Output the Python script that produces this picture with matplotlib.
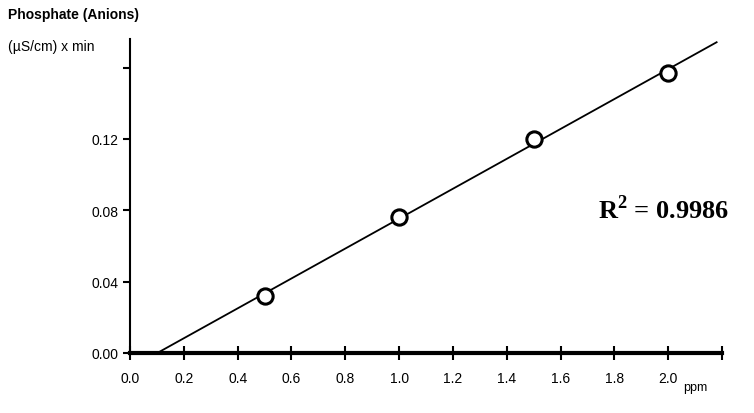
import matplotlib
matplotlib.use("Agg")
import matplotlib.pyplot as plt
import numpy as np

conc = [0.5, 1.0, 1.5, 2.0]
area = [0.032, 0.076, 0.120, 0.157]
xticks = [0.0, 0.2, 0.4, 0.6, 0.8, 1.0, 1.2, 1.4, 1.6, 1.8, 2.0, 2.2]
xlabels = ["0.0", "0.2", "0.4", "0.6", "0.8", "1.0", "1.2", "1.4", "1.6", "1.8", "2.0", ""]
yticks = [0.00, 0.04, 0.08, 0.12, 0.16]
ylabels = ["0.00", "0.04", "0.08", "0.12", ""]

plt.rcParams["mathtext.fontset"] = "custom"
plt.rcParams["mathtext.bf"] = "Liberation Serif:bold"
plt.rcParams["mathtext.rm"] = "Liberation Serif"

fig = plt.figure(figsize=(7.54, 4.14), dpi=100)
ax = fig.add_axes([130/754, 60/414, 592/754, 314/414])
m, b = np.polyfit(conc, area, 1)
x0 = -b / m
xl = np.array([x0, 2.18])
ax.plot(xl, m * xl + b, color="black", lw=1.3)
ax.plot(conc, area, "o", ms=11, mfc="white", mec="black", mew=2.2)
ax.set_xlim(0, 2.2)
ax.set_ylim(0, 0.176)
ax.spines["top"].set_visible(False)
ax.spines["right"].set_visible(False)
ax.spines["bottom"].set_linewidth(3)
ax.spines["left"].set_linewidth(1.5)
f = "Liberation Sans"
ax.set_xticks(xticks)
ax.set_xticklabels(xlabels, fontsize=10, family=f)
ax.set_yticks(yticks)
ax.set_yticklabels(ylabels, fontsize=10, family=f)
ax.tick_params(axis="x", direction="inout", length=10, width=1.5, pad=8)
ax.tick_params(axis="y", direction="out", length=5, width=1.5)
fig.text(8/754, 1 - 15/414, "Phosphate (Anions)", fontsize=10, weight="bold", family=f, va="center")
fig.text(8/754, 1 - 47/414, "(µS/cm) x min", fontsize=10, family=f, va="center")
fig.text(683/754, 1 - 388/414, "ppm", fontsize=9, family=f, va="center")
fig.text(598/754, 1 - 210/414, r"R$^{\mathbf{2}}$ = 0.9986", fontsize=19, weight="bold", family="Liberation Serif", va="center")
fig.savefig("out.png", dpi=100)
